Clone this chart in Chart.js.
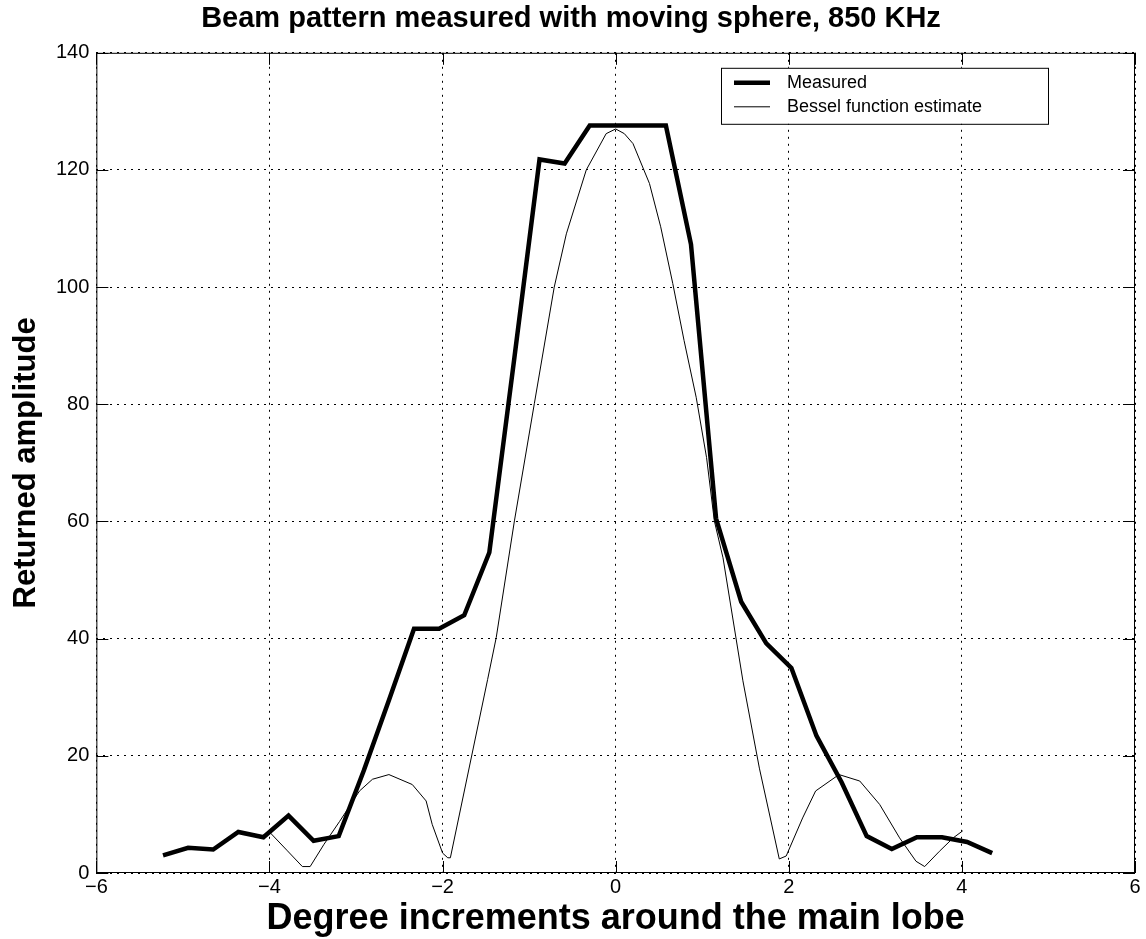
<!DOCTYPE html>
<html>
<head>
<meta charset="utf-8">
<title>Beam pattern</title>
<script src="https://cdn.jsdelivr.net/npm/chart.js@4.4.0/dist/chart.umd.min.js"></script>
<style>
  html, body { margin: 0; padding: 0; background: #fff; }
</style>
</head>
<body>
<canvas id="myChart" width="1146" height="939"></canvas>
<script>
// Measured points (degrees, amplitude)
const measuredX = [-5.23, -4.94, -4.65, -4.36, -4.07, -3.78, -3.49, -3.20, -2.91, -2.62,
                   -2.33, -2.04, -1.75, -1.46, -1.17, -0.88, -0.59, -0.30, 0.00, 0.29,
                   0.58, 0.87, 1.16, 1.45, 1.74, 2.03, 2.32, 2.61, 2.90, 3.19,
                   3.48, 3.77, 4.06, 4.35];
const measuredY = [3.0, 4.3, 4.0, 7.0, 6.1, 9.8, 5.5, 6.3, 17.5, 29.5,
                   41.7, 41.7, 44.0, 54.7, 88.0, 121.8, 121.1, 127.6, 127.6, 127.6,
                   127.6, 107.3, 60.5, 46.3, 39.2, 35.0, 23.4, 15.5, 6.3, 4.1,
                   6.1, 6.1, 5.3, 3.4];

// Bessel function estimate
const besselX = [-4.00, -3.80, -3.62, -3.53, -3.37, -3.19, -2.96, -2.81, -2.62, -2.35,
                 -2.19, -2.12, -2.00, -1.94, -1.91, -1.48, -1.38, -1.17, -0.94, -0.71,
                 -0.57, -0.34, -0.11, 0.00, 0.10, 0.20, 0.39, 0.52, 0.66, 0.79,
                 0.93, 1.05, 1.14, 1.24, 1.47, 1.66, 1.89, 1.97, 2.16, 2.31,
                 2.58, 2.82, 3.05, 3.28, 3.47, 3.57, 3.74, 3.90, 4.01];
const besselY = [7.0, 3.9, 1.1, 1.1, 4.9, 8.8, 14.0, 16.0, 16.8, 15.1,
                 12.3, 8.3, 3.4, 2.6, 2.6, 33.0, 40.2, 60.1, 80.1, 100.0,
                 109.1, 120.0, 126.2, 127.0, 126.2, 124.5, 117.7, 110.3, 100.6, 90.9,
                 81.2, 70.9, 60.1, 53.8, 32.8, 17.9, 2.4, 2.9, 9.4, 14.0,
                 16.8, 15.7, 11.7, 6.0, 2.0, 1.1, 3.7, 6.0, 7.2];

const xTicks = [-6, -4, -2, 0, 2, 4, 6];
const yTicks = [0, 20, 40, 60, 80, 100, 120, 140];

const titleText = 'Beam pattern measured with moving sphere, 850 KHz';
const xTitle = 'Degree increments around the main lobe';
const yTitle = 'Returned amplitude';

function toPoints(xs, ys) {
    return xs.map((x, i) => ({ x: x, y: ys[i] }));
}

// Frame box, inward ticks on all four sides and the boxed legend
const matlabAxes = {
    id: 'matlabAxes',
    afterDraw(chart) {
        const ctx = chart.ctx;
        const a = chart.chartArea;
        const xs = chart.scales.x;
        const ys = chart.scales.y;
        const tl = 12;
        ctx.save();
        ctx.strokeStyle = '#000';
        ctx.lineWidth = 1;
        ctx.setLineDash([]);
        ctx.strokeRect(a.left + 0.5, a.top + 0.5, a.right - a.left - 1, a.bottom - a.top - 1);
        ctx.beginPath();
        xTicks.forEach(v => {
            const p = Math.round(xs.getPixelForValue(v)) + 0.5;
            ctx.moveTo(p, a.bottom); ctx.lineTo(p, a.bottom - tl);
            ctx.moveTo(p, a.top); ctx.lineTo(p, a.top + tl);
        });
        yTicks.forEach(v => {
            const p = Math.round(ys.getPixelForValue(v)) + 0.5;
            ctx.moveTo(a.left, p); ctx.lineTo(a.left + tl, p);
            ctx.moveTo(a.right, p); ctx.lineTo(a.right - tl, p);
        });
        ctx.stroke();

        // legend box in the upper right corner
        const bx = a.right - 414, by = a.top + 15, bw = 327, bh = 56;
        ctx.fillStyle = '#fff';
        ctx.fillRect(bx, by, bw, bh);
        ctx.strokeRect(bx + 0.5, by + 0.5, bw, bh);
        ctx.font = '18px "Liberation Sans", Arial, sans-serif';
        ctx.textBaseline = 'middle';
        ctx.fillStyle = '#000';
        chart.data.datasets.forEach((ds, i) => {
            const ly = by + 15 + i * 24;
            ctx.beginPath();
            ctx.lineWidth = ds.borderWidth;
            ctx.moveTo(bx + 13, ly);
            ctx.lineTo(bx + 49, ly);
            ctx.stroke();
            ctx.fillText(ds.label, bx + 66, ly);
        });
        ctx.restore();
    }
};

function plotGraph() {
    const ctx = document.getElementById('myChart').getContext('2d');
    const fontFamily = '"Liberation Sans", Arial, Helvetica, sans-serif';

    new Chart(ctx, {
        type: 'line',
        data: {
            datasets: [{
                label: 'Measured',
                data: toPoints(measuredX, measuredY),
                borderColor: '#000',
                borderWidth: 4.5,
                pointRadius: 0,
                tension: 0,
                fill: false,
                order: 0
            }, {
                label: 'Bessel function estimate',
                data: toPoints(besselX, besselY),
                borderColor: '#000',
                borderWidth: 1,
                pointRadius: 0,
                tension: 0,
                fill: false,
                order: 1
            }]
        },
        options: {
            responsive: false,
            animation: false,
            layout: { padding: { left: 7, right: 11, top: 0, bottom: 2 } },
            plugins: {
                legend: { display: false },
                tooltip: { enabled: false },
                title: {
                    display: true,
                    text: titleText,
                    color: '#000',
                    font: { family: fontFamily, size: 29, weight: 'bold', lineHeight: 1.2 },
                    padding: { top: 2, bottom: 16 }
                }
            },
            scales: {
                x: {
                    type: 'linear',
                    min: -6,
                    max: 6,
                    afterBuildTicks: scale => { scale.ticks = xTicks.map(v => ({ value: v })); },
                    ticks: {
                        color: '#000',
                        font: { family: fontFamily, size: 20 },
                        padding: 2,
                        maxRotation: 0,
                        callback: v => String(v).replace('-', '\u2212')
                    },
                    grid: { color: '#000', lineWidth: 1, drawTicks: false },
                    border: { display: false, dash: [2, 5] },
                    title: {
                        display: true,
                        text: xTitle,
                        color: '#000',
                        font: { family: fontFamily, size: 36, weight: 'bold', lineHeight: 1.0 },
                        padding: { top: 0, bottom: 0 }
                    }
                },
                y: {
                    type: 'linear',
                    min: 0,
                    max: 140,
                    afterBuildTicks: scale => { scale.ticks = yTicks.map(v => ({ value: v })); },
                    ticks: {
                        color: '#000',
                        font: { family: fontFamily, size: 20 },
                        padding: 7
                    },
                    grid: { color: '#000', lineWidth: 1, drawTicks: false },
                    border: { display: false, dash: [2, 5] },
                    title: {
                        display: true,
                        text: yTitle,
                        color: '#000',
                        font: { family: fontFamily, size: 31, weight: 'bold', lineHeight: 1.0 },
                        padding: { top: 4, bottom: 7 }
                    }
                }
            }
        },
        plugins: [matlabAxes]
    });
}

plotGraph();
</script>
</body>
</html>
